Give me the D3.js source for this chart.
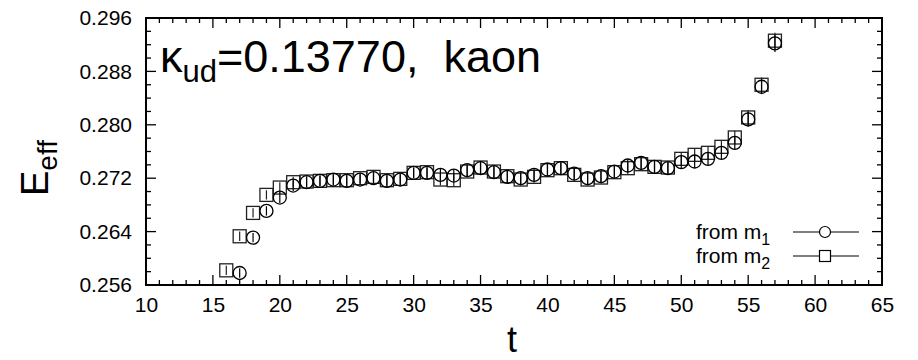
<!DOCTYPE html>
<html>
<head>
<meta charset="utf-8">
<script src="https://cdn.jsdelivr.net/npm/d3@7"></script>
<style>
  body { margin: 0; background: #fff; }
  svg text { font-family: "Liberation Sans", Arial, sans-serif; fill: #000; }
</style>
</head>
<body>
<svg id="chart" width="918" height="360"></svg>
<script>
// time slices and effective energies
const tM1 = [17,18,19,20,21,22,23,24,25,26,27,28,29,30,31,32,33,34,35,36,37,38,39,40,41,42,43,44,45,46,47,48,49,50,51,52,53,54,55,56,57];
const effM1 = [0.2578,0.2631,0.2671,0.2691,0.2709,0.2714,0.2716,0.2718,0.2716,0.2718,0.2720,0.2716,0.2718,0.2728,0.2728,0.2725,0.2724,0.2732,0.2735,0.2729,0.2722,0.2720,0.2725,0.2733,0.2735,0.2727,0.2720,0.2723,0.2730,0.2739,0.2743,0.2737,0.2735,0.2744,0.2745,0.2749,0.2758,0.2773,0.2808,0.2857,0.2922];
const errM1 = [0.0007,0.0007,0.0007,0.0008,0.0008,0.0008,0.0008,0.0008,0.0008,0.0008,0.0008,0.0008,0.0008,0.0008,0.0008,0.0009,0.0009,0.0009,0.0009,0.0009,0.0009,0.0009,0.0009,0.0009,0.0009,0.0009,0.0009,0.0009,0.0009,0.0009,0.0009,0.0009,0.0009,0.0010,0.0010,0.0010,0.0010,0.0010,0.0011,0.0011,0.0013];

const tM2 = [16,17,18,19,20,21,22,23,24,25,26,27,28,29,30,31,32,33,34,35,36,37,38,39,40,41,42,43,44,45,46,47,48,49,50,51,52,53,54,55,56,57];
const effM2 = [0.2582,0.2633,0.2668,0.2695,0.2706,0.2714,0.2715,0.2716,0.2717,0.2717,0.2720,0.2722,0.2717,0.2719,0.2728,0.2729,0.2718,0.2717,0.2730,0.2736,0.2730,0.2723,0.2718,0.2722,0.2732,0.2735,0.2725,0.2718,0.2721,0.2729,0.2735,0.2741,0.2737,0.2736,0.2749,0.2755,0.2758,0.2767,0.2781,0.2811,0.2860,0.2926];
const errM2 = [0.0007,0.0007,0.0007,0.0007,0.0008,0.0008,0.0008,0.0008,0.0008,0.0008,0.0008,0.0008,0.0008,0.0008,0.0008,0.0008,0.0009,0.0009,0.0009,0.0009,0.0009,0.0009,0.0009,0.0009,0.0009,0.0009,0.0009,0.0009,0.0009,0.0009,0.0009,0.0009,0.0009,0.0009,0.0010,0.0010,0.0010,0.0010,0.0010,0.0011,0.0011,0.0012];

const xTicks = [10,15,20,25,30,35,40,45,50,55,60,65];
const yTicks = [0.256,0.264,0.272,0.280,0.288,0.296];

const W=918, H=360;
const margin = {left: 146, right: 36, top: 18, bottom: 75};
const plotW = W - margin.left - margin.right;
const plotH = H - margin.top - margin.bottom;

const svg = d3.select('#chart');
const g = svg.append('g').attr('transform', `translate(${margin.left},${margin.top})`);

const x = d3.scaleLinear().domain([10,65]).range([0, plotW]);
const y = d3.scaleLinear().domain([0.256,0.296]).range([plotH, 0]);

const xMinor = d3.range(10,66,1).filter(v => v%5!==0);
const yMinor = d3.range(0,21).map(i => 0.256+i*0.002).filter((v,i) => i%4!==0);

// ticks on all four sides, pointing inward
function tickSet(vals, len, cls) {
  g.selectAll('line.'+cls+'b').data(vals).enter().append('line')
    .attr('x1', d=>x(d)).attr('x2', d=>x(d)).attr('y1', plotH).attr('y2', plotH-len)
    .attr('stroke','#000').attr('stroke-width',1.3);
  g.selectAll('line.'+cls+'t').data(vals).enter().append('line')
    .attr('x1', d=>x(d)).attr('x2', d=>x(d)).attr('y1', 0).attr('y2', len)
    .attr('stroke','#000').attr('stroke-width',1.3);
}
function tickSetY(vals, len, cls) {
  g.selectAll('line.'+cls+'l').data(vals).enter().append('line')
    .attr('y1', d=>y(d)).attr('y2', d=>y(d)).attr('x1', 0).attr('x2', len)
    .attr('stroke','#000').attr('stroke-width',1.3);
  g.selectAll('line.'+cls+'r').data(vals).enter().append('line')
    .attr('y1', d=>y(d)).attr('y2', d=>y(d)).attr('x1', plotW).attr('x2', plotW-len)
    .attr('stroke','#000').attr('stroke-width',1.3);
}
tickSet(xTicks, 10, 'xM');
tickSet(xMinor, 5, 'xm');
tickSetY(yTicks, 10, 'yM');
tickSetY(yMinor, 5, 'ym');

// tick labels via d3 axes, tick lines hidden
const xAxis = g.append('g').attr('transform', `translate(0,${plotH})`)
  .call(d3.axisBottom(x).tickValues(xTicks).tickSize(0).tickPadding(12).tickFormat(d3.format('d')));
const yAxis = g.append('g')
  .call(d3.axisLeft(y).tickValues(yTicks).tickSize(0).tickPadding(14).tickFormat(d3.format('.3f')));
[xAxis, yAxis].forEach(a => {
  a.select('.domain').remove();
  a.selectAll('text').attr('font-size', 21).attr('font-family', '"Liberation Sans", Arial, sans-serif').attr('fill','#000');
});
xAxis.selectAll('text').attr('dy', '0.71em');

// frame
g.append('rect').attr('x',0).attr('y',0).attr('width',plotW).attr('height',plotH)
  .attr('fill','none').attr('stroke','#000').attr('stroke-width',2);

// data
const s1 = tM1.map((t,i)=>({t, v: effM1[i], e: errM1[i]}));
const s2 = tM2.map((t,i)=>({t, v: effM2[i], e: errM2[i]}));
const R = 6.5;

function errBars(data, color) {
  g.append('g').selectAll('line').data(data).enter().append('line')
    .attr('x1', d=>x(d.t)).attr('x2', d=>x(d.t))
    .attr('y1', d=>y(d.v-d.e)).attr('y2', d=>y(d.v+d.e))
    .attr('stroke', color).attr('stroke-width',1.2);
}
errBars(s2, '#222');
g.append('g').selectAll('rect').data(s2).enter().append('rect')
  .attr('x', d=>x(d.t)-R).attr('y', d=>y(d.v)-R).attr('width', 2*R).attr('height', 2*R)
  .attr('fill','none').attr('stroke','#222').attr('stroke-width',1.3);
errBars(s1, '#000');
g.append('g').selectAll('circle').data(s1).enter().append('circle')
  .attr('cx', d=>x(d.t)).attr('cy', d=>y(d.v)).attr('r', R)
  .attr('fill','none').attr('stroke','#000').attr('stroke-width',1.3);

// title
const title = svg.append('text').attr('x', 160).attr('y', 72).attr('font-size', 45);
title.append('tspan').text('\u03ba');
title.append('tspan').attr('font-size', 31).attr('dy', 10).text('ud');
title.append('tspan').attr('dy', -10).text('=0.13770,\u00a0\u00a0kaon');

// axis labels
svg.append('text').attr('x', 512).attr('y', 352).attr('text-anchor','middle').attr('font-size', 36).text('t');
const yl = svg.append('text').attr('transform','translate(48,168) rotate(-90)').attr('text-anchor','middle').attr('font-size', 38);
yl.append('tspan').text('E');
yl.append('tspan').attr('font-size', 28).attr('dy', 9).text('eff');

// legend
const leg = svg.append('g');
const rows = [{lab:'m', sub:'1', shape:'circle', y:232}, {lab:'m', sub:'2', shape:'square', y:256}];
rows.forEach(r => {
  const t = leg.append('text').attr('x', 696).attr('y', r.y+7).attr('font-size', 21);
  t.append('tspan').text('from ' + r.lab);
  t.append('tspan').attr('font-size', 16).attr('dy', 6).text(r.sub);
  leg.append('line').attr('x1', 793).attr('x2', 859).attr('y1', r.y).attr('y2', r.y)
    .attr('stroke','#000').attr('stroke-width',1.2);
  if (r.shape==='circle') {
    leg.append('circle').attr('cx', 825).attr('cy', r.y).attr('r', 5.5)
      .attr('fill','#fff').attr('stroke','#000').attr('stroke-width',1.2);
  } else {
    leg.append('rect').attr('x', 819.5).attr('y', r.y-5.5).attr('width', 11).attr('height', 11)
      .attr('fill','#fff').attr('stroke','#000').attr('stroke-width',1.2);
  }
});
</script>
</body>
</html>
